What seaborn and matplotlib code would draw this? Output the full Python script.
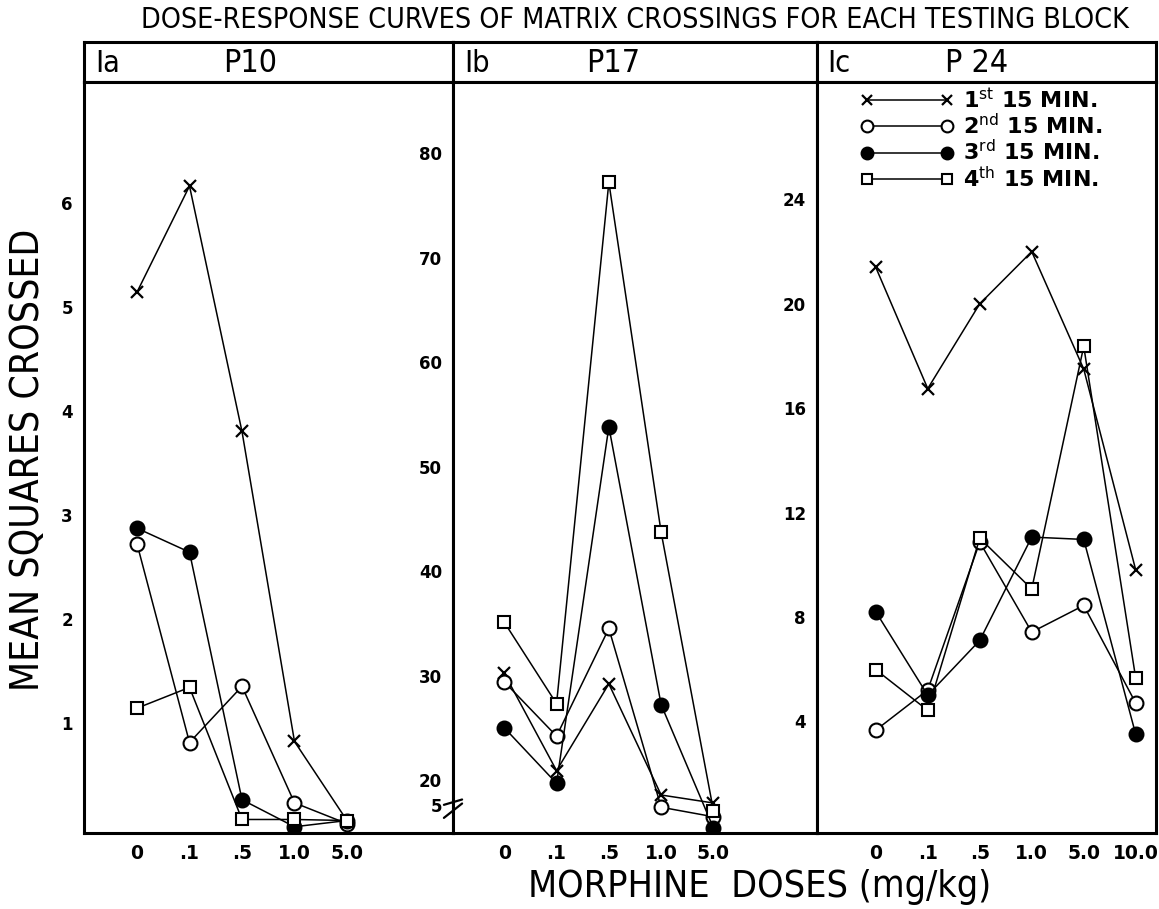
"""Dose-response curves of matrix crossings, three age panels."""
import matplotlib
matplotlib.use("Agg")
import matplotlib.pyplot as plt
import numpy as np
import seaborn as sns

# x categories (morphine dose, mg/kg)
doses_p10 = ["0", ".1", ".5", "1.0", "5.0"]
doses_p17 = ["0", ".1", ".5", "1.0", "5.0"]
doses_p24 = ["0", ".1", ".5", "1.0", "5.0", "10.0"]

# mean squares crossed, one list per 15-min testing block
p10_first = [5.14, 6.16, 3.80, 0.82, 0.06]
p10_second = [2.72, 0.81, 1.35, 0.23, 0.03]
p10_third = [2.87, 2.64, 0.26, 0.0, 0.06]
p10_fourth = [1.14, 1.34, 0.07, 0.07, 0.06]

p17_first = [30.2, 20.9, 29.2, 11.0, 6.2]
p17_second = [29.4, 24.2, 34.5, 4.6, 2.9]
p17_third = [25.0, 18.0, 53.8, 27.2, 0.9]
p17_fourth = [35.1, 27.3, 77.2, 43.7, 4.0]

p24_first = [21.4, 16.75, 20.0, 22.0, 17.5, 9.8]
p24_second = [3.66, 5.2, 10.87, 7.42, 8.44, 4.7]
p24_third = [8.2, 5.0, 7.1, 11.06, 10.97, 3.5]
p24_fourth = [5.98, 4.42, 11.02, 9.07, 18.37, 5.65]

block_labels = [
    r"1$^{\rm st}$ 15 MIN.",
    r"2$^{\rm nd}$ 15 MIN.",
    r"3$^{\rm rd}$ 15 MIN.",
    r"4$^{\rm th}$ 15 MIN.",
]

sns.set_style("white")
plt.rcParams["font.family"] = ["DejaVu Sans"]
plt.rcParams["text.color"] = "black"
plt.rcParams["xtick.color"] = "black"
plt.rcParams["ytick.color"] = "black"
COND = dict(family="DejaVu Sans", stretch="condensed")

marker_styles = [
    dict(marker="x", markersize=9, markerfacecolor="black", markeredgewidth=1.6),
    dict(marker="o", markersize=10, markerfacecolor="white", markeredgewidth=1.5),
    dict(marker="o", markersize=10, markerfacecolor="black", markeredgewidth=1.5),
    dict(marker="s", markersize=9, markerfacecolor="white", markeredgewidth=1.5),
]


# broken axis for P17: 0-5 and 5-20 squeezed below the 20 tick
def _fwd(v):
    return np.interp(v, [0, 5, 20, 100], [0, 28, 53, 53 + 80 * 10.45])


def _inv(t):
    return np.interp(t, [0, 28, 53, 53 + 80 * 10.45], [0, 5, 20, 100])


fig = plt.figure(figsize=(11.59, 9.09), dpi=100)
gs = fig.add_gridspec(
    2, 3,
    height_ratios=[40, 751], width_ratios=[369, 364, 339],
    left=84 / 1159, right=1156 / 1159, top=1 - 42 / 909, bottom=1 - 833 / 909,
    hspace=0, wspace=0,
)

panels = [
    ("Ia", "P10", doses_p10, [p10_first, p10_second, p10_third, p10_fourth]),
    ("Ib", "P17", doses_p17, [p17_first, p17_second, p17_third, p17_fourth]),
    ("Ic", "P 24", doses_p24, [p24_first, p24_second, p24_third, p24_fourth]),
]
xlims = [(-1.01, 6.02), (-0.98, 5.98), (-1.13, 5.39)]
header_x = [0.45, 0.44, 0.47]

for i, (tag, age, doses, series) in enumerate(panels):
    hax = fig.add_subplot(gs[0, i])
    hax.set_xticks([])
    hax.set_yticks([])
    for sp in hax.spines.values():
        sp.set_linewidth(2.2)
        sp.set_color("black")
    hax.text(0.03, 0.45, tag, transform=hax.transAxes, fontsize=22,
             ha="left", va="center", **COND)
    hax.text(header_x[i], 0.45, age, transform=hax.transAxes, fontsize=23,
             ha="center", va="center", **COND)

    ax = fig.add_subplot(gs[1, i])
    x = np.arange(len(doses))
    for vals, lab, st in zip(series, block_labels, marker_styles):
        sns.lineplot(x=x, y=vals, ax=ax, color="black", linewidth=1.1,
                     markeredgecolor="black", label=lab, **st)

    ax.set_xlim(*xlims[i])
    ax.set_xticks(x)
    ax.set_xticklabels(doses, fontsize=13.5, fontweight="bold")
    ax.tick_params(axis="x", direction="in", length=6, width=1.6, pad=8)
    ax.tick_params(axis="y", direction="in", length=6, width=1.6, pad=8)
    for sp in ax.spines.values():
        sp.set_linewidth(2.2)
        sp.set_color("black")
    ax.set_xlabel("")
    ax.set_ylabel("")

    if i == 0:
        ax.set_ylim(-0.06, 7.16)
        ax.set_yticks([1, 2, 3, 4, 5, 6])
    elif i == 1:
        ax.set_yscale("function", functions=(_fwd, _inv))
        ax.set_ylim(0, 86.8)
        ax.set_yticks([5, 20, 30, 40, 50, 60, 70, 80])
        ax.yaxis.get_major_ticks()[0].tick1line.set_visible(False)
        # break mark on the axis
        for dy in (-1.2, 1.2):
            ax.plot([-0.025, 0.025], [5.5 + dy - 1.6, 5.5 + dy + 1.6],
                    transform=ax.get_yaxis_transform(), color="black",
                    lw=1.6, clip_on=False)
    else:
        ax.set_ylim(-0.28, 28.5)
        ax.set_yticks([4, 8, 12, 16, 20, 24])
    for lbl in ax.get_yticklabels():
        lbl.set_fontweight("bold")
        lbl.set_fontsize(12)

    if i == 2:
        ax.legend(loc="upper left", bbox_to_anchor=(0.07, 1.02), frameon=False,
                  numpoints=2, handlelength=4.2, markerscale=0.85,
                  labelspacing=0.05, handletextpad=0.4,
                  prop={"family": "DejaVu Sans", "size": 16, "weight": "bold"})
    else:
        leg = ax.get_legend()
        if leg is not None:
            leg.remove()

fig.text(635 / 1159, 1 - 20 / 909,
         "DOSE-RESPONSE CURVES OF MATRIX CROSSINGS FOR EACH TESTING BLOCK",
         ha="center", va="center", fontsize=20.5, **COND)
fig.text(28 / 1159, 1 - 460 / 909, "MEAN SQUARES CROSSED", rotation=90,
         ha="center", va="center", fontsize=28, **COND)
fig.text(760 / 1159, 1 - 887 / 909, "MORPHINE  DOSES (mg/kg)",
         ha="center", va="center", fontsize=27, **COND)

fig.savefig("out.png", dpi=100)
plt.close(fig)
